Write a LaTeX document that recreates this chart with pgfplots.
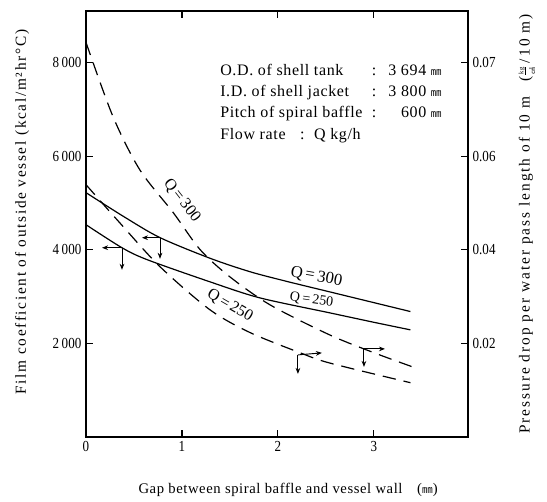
\documentclass[border=0pt]{standalone}
\usepackage{fontspec}
\setmainfont{Liberation Serif}
\newfontfamily\spaced[LetterSpace=4]{Liberation Serif}
\newfontfamily\leftlab[LetterSpace=11]{Liberation Serif}
\newfontfamily\rightlab[LetterSpace=13]{Liberation Serif}
\newfontfamily\textblock[LetterSpace=4]{Liberation Serif}
\newfontfamily\narrow[FakeStretch=0.85]{Liberation Serif}
\newfontfamily\cjk{Noto Sans CJK JP}
\usepackage{pgfplots}
\pgfplotsset{compat=1.18}
\usetikzlibrary{arrows.meta}

% film coefficient (kcal/m2 hr C), left axis
\pgfplotstableread{
gap h
0    5220
0.4  4700
0.77 4260
1.29 3820
1.71 3530
2.1  3320
2.54 3100
3.0  2870
3.38 2680
}\hthree
\pgfplotstableread{
gap h
0    4535
0.375 4043
0.64 3786
1.29 3316
1.81 2973
2.54 2652
3.0  2450
3.38 2289
}\htwo
% pressure drop (kg/cm2 per 10 m), right axis
\pgfplotstableread{
gap dp
0    0.0843
0.28 0.0685
0.56 0.0571
0.91 0.0479
1.19 0.0400
1.5  0.0342
1.92 0.0282
2.54 0.0218
3.0  0.0180
3.4  0.0150
}\pthree
\pgfplotstableread{
gap dp
0    0.0539
0.35 0.0458
0.77 0.0364
1.29 0.0272
1.71 0.0223
2.23 0.0180
2.54 0.0158
3.38 0.0116
}\ptwo

\tikzset{arr/.style={-{Stealth[length=4.5pt,width=3.5pt]}, line width=0.7pt}}

\begin{document}
\begin{tikzpicture}
\useasboundingbox (-64.5pt,-48pt) rectangle (345.75pt,327.75pt);
\pgfplotsset{
  frame/.style={
    scale only axis, width=286.5pt, height=319.5pt,
    at={(0,0)}, anchor=south west,
    xmin=0, xmax=3.98, ymin=0,
    tick align=inside, major tick length=5.5pt,
    tick style={black, line width=0.8pt},
    axis line style={line width=1pt},
    ticklabel style={font=\narrow\fontsize{11.5}{12}\selectfont},
    no markers,
  },
}
\begin{axis}[frame,
  ymax=9100,
  xtick={0,1,2,3}, xticklabels={0,1,2,3},
  xtick pos=both, xticklabel pos=lower,
  ytick={2000,4000,6000,8000},
  yticklabels={2\,000,4\,000,6\,000,8\,000},
  ytick pos=left,
  xlabel={Gap between spiral baffle and vessel wall\quad({\cjk\footnotesize ㎜})},
  xlabel style={at={(axis description cs:0.529,-0.124)}, anchor=center,
    font=\spaced\fontsize{11}{13}\selectfont},
  ylabel={Film coefficient of outside vessel (kcal/m²hr°C)},
  ylabel style={at={(axis description cs:-0.1675,0.528)}, anchor=center,
    font=\leftlab\fontsize{11.5}{13}\selectfont},
]
\addplot[black, line width=0.9pt, smooth] table[x=gap, y=h] {\hthree};
\addplot[black, line width=0.9pt, smooth] table[x=gap, y=h] {\htwo};

\draw[arr] (axis cs:0.375,4043) -- (axis cs:0.167,4043);
\draw[arr] (axis cs:0.375,4043) -- (axis cs:0.375,3572);
\draw[arr] (axis cs:0.771,4257) -- (axis cs:0.583,4257);
\draw[arr] (axis cs:0.771,4257) -- (axis cs:0.771,3807);
\draw[arr] (axis cs:2.208,1754) -- (axis cs:2.458,1797);
\draw[arr] (axis cs:2.208,1754) -- (axis cs:2.208,1348);
\draw[arr] (axis cs:2.896,1882) -- (axis cs:3.115,1882);
\draw[arr] (axis cs:2.896,1882) -- (axis cs:2.896,1497);

\node[rotate=-52, font=\fontsize{12}{12}\selectfont] at (axis cs:1.0,5050) {Q\,=\,300};
\node[rotate=-30, font=\fontsize{12}{12}\selectfont] at (axis cs:1.50,2800) {Q\,=\,250};
\node[rotate=-10, font=\fontsize{12.5}{12}\selectfont] at (axis cs:2.40,3422) {Q\,=\,300};
\node[rotate=-8, font=\fontsize{10.5}{12}\selectfont] at (axis cs:2.35,2930) {Q\,=\,250};
\end{axis}

\begin{axis}[frame,
  ymax=0.091,
  axis y line*=right, axis x line=none,
  ytick={0.02,0.04,0.06,0.08},
  yticklabels={0.02,0.04,0.06,0.07},
  ylabel={Pressure drop per water pass length of 10 m\quad($\frac{\mbox{\tiny kg}}{\mbox{\tiny\cjk ㎠}}$\,/\,10 m)},
  ylabel style={at={(axis description cs:1.1545,0.5)}, anchor=center,
    font=\rightlab\fontsize{11.5}{13}\selectfont},
]
\addplot[black, line width=0.9pt, smooth, dash pattern=on 10pt off 6pt] table[x=gap, y=dp] {\pthree};
\addplot[black, line width=0.9pt, smooth, dash pattern=on 10pt off 6pt] table[x=gap, y=dp] {\ptwo};
\end{axis}

\node[anchor=north west, inner sep=0pt, font=\textblock\fontsize{12}{16}\selectfont] at (100.5pt,282.75pt) {%
  \begin{tabular}{@{}l@{\hspace{7pt}}l@{\hspace{9pt}}r@{}}
  O.D. of shell tank & : & 3 694 {\cjk\footnotesize ㎜}\\
  I.D. of shell jacket & : & 3 800 {\cjk\footnotesize ㎜}\\
  Pitch of spiral baffle & : & 600 {\cjk\footnotesize ㎜}\\
  \multicolumn{3}{@{}l}{Flow rate\hspace{0.9em}:\hspace{0.6em}Q kg/h}
  \end{tabular}};
\end{tikzpicture}
\end{document}
